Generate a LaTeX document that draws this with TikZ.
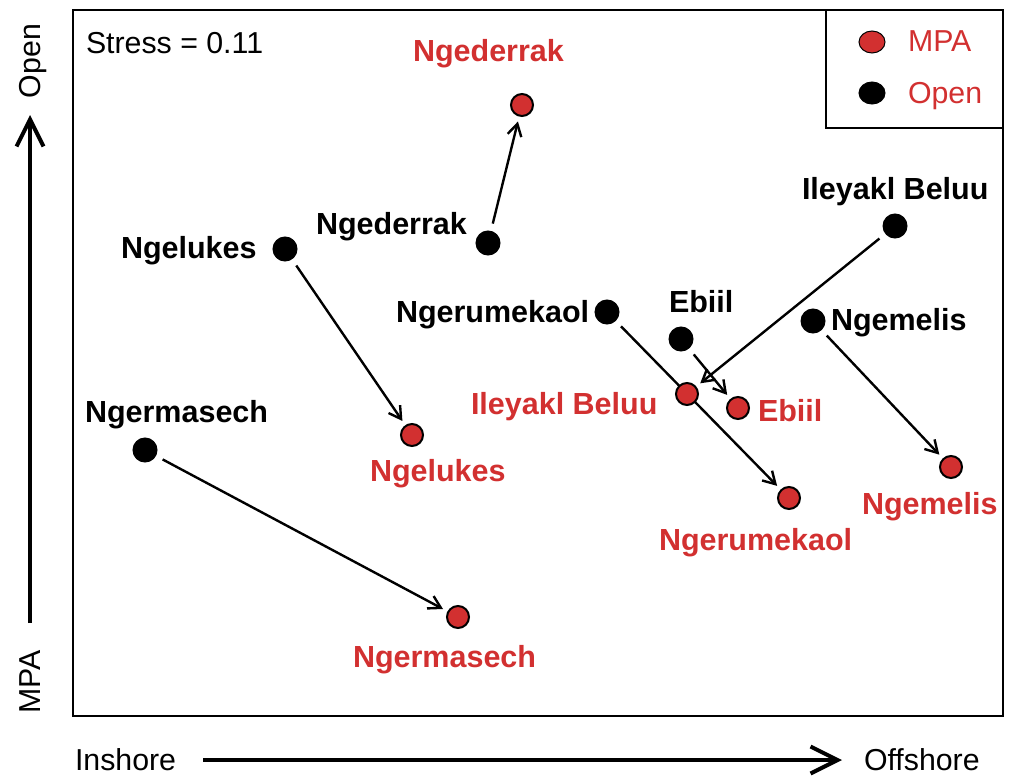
\documentclass[tikz,border=0pt]{standalone}
\usepackage{fontspec}
\setmainfont{Liberation Sans}
\usetikzlibrary{arrows.meta,backgrounds,shapes.geometric}
\definecolor{mpared}{RGB}{210,48,48}
\begin{document}
\begin{tikzpicture}[x=1pt,y=-1pt,
  every node/.style={inner sep=0pt, outer sep=0pt},
  txt/.style={font=\fontsize{30.3}{36}\selectfont},
  lblopen/.style={font=\fontsize{30.5}{36}\selectfont\bfseries, text=black, anchor=base west},
  lblmpa/.style={font=\fontsize{30.5}{36}\selectfont\bfseries, text=mpared, anchor=base west},
  opendot/.style={circle, fill=black, draw=black, line width=1pt, minimum size=24pt},
  mpadot/.style={circle, fill=mpared, draw=black, line width=2pt, minimum size=22pt},
  move/.style={line width=2.4pt, -{Straight Barb[length=12pt,width=14pt]}, shorten <=8pt, shorten >=6pt},
  axisarrow/.style={line width=4pt, -{Straight Barb[length=27pt,width=27pt]}},
  framebox/.style={line width=2.7pt}
]
\useasboundingbox (0,0) rectangle (1014,776);

% frame and legend box
\draw[framebox] (73,10) rectangle (1003,716);
\draw[framebox] (826,10) rectangle (1003,128);

% legend
\node[ellipse, fill=mpared, draw=black, line width=1pt, minimum width=26pt, minimum height=22pt] (legmpa) at (872,42) {};
\node[ellipse, fill=black, draw=black, line width=1pt, minimum width=26pt, minimum height=22pt] (legopen) at (872,93) {};
\node[txt, text=mpared, anchor=base west] (legmpatxt) at (908,52) {MPA};
\node[txt, text=mpared, anchor=base west] (legopentxt) at (908,103) {Open};

% stress
\node[txt, anchor=base west] (stress) at (86,54) {Stress = 0.11};

% axes
\coordinate (xa) at (203,760);
\coordinate (xb) at (842,760);
\coordinate (ya) at (30,623);
\coordinate (yb) at (30,115);
\draw[axisarrow] (xa) -- (xb);
\draw[axisarrow] (ya) -- (yb);
\node[txt, anchor=base west] (inshore) at (75,770) {Inshore};
\node[txt, anchor=base west] (offshore) at (864,770) {Offshore};
\node[txt, rotate=90, anchor=base] (openax) at (40,61) {Open};
\node[txt, rotate=90, anchor=base] (mpaax) at (40,682) {MPA};

% points
\node[opendot] (bNgederrak) at (488,243) {};
\node[opendot] (bNgelukes) at (285,249) {};
\node[opendot] (bNgermasech) at (145,450) {};
\node[opendot] (bNgerumekaol) at (607,312) {};
\node[opendot] (bEbiil) at (681,339) {};
\node[opendot] (bNgemelis) at (813,321) {};
\node[opendot] (bIleyakl) at (895,226) {};

\node[mpadot] (rNgederrak) at (522,105) {};
\node[mpadot] (rNgelukes) at (412,435) {};
\node[mpadot] (rNgermasech) at (458,617) {};
\node[mpadot] (rNgerumekaol) at (789,498) {};
\node[mpadot] (rIleyakl) at (687,394) {};
\node[mpadot] (rEbiil) at (738,408) {};
\node[mpadot] (rNgemelis) at (951,467) {};

% movements
\begin{pgfonlayer}{background}
\draw[move] (bNgederrak) -- (rNgederrak);
\draw[move] (bNgelukes) -- (rNgelukes);
\draw[move] (bNgermasech) -- (rNgermasech);
\draw[move] (bNgerumekaol) -- (rNgerumekaol);
\draw[move] (bEbiil) -- (rEbiil);
\draw[move] (bNgemelis) -- (rNgemelis);
\draw[move] (bIleyakl) -- (rIleyakl);
\end{pgfonlayer}

% labels
\node[lblopen] (tbNgederrak) at (316,234) {Ngederrak};
\node[lblopen] (tbNgelukes) at (121,258) {Ngelukes};
\node[lblopen] (tbNgermasech) at (85,422) {Ngermasech};
\node[lblopen] (tbNgerumekaol) at (396,322) {Ngerumekaol};
\node[lblopen] (tbEbiil) at (669,312) {Ebiil};
\node[lblopen] (tbNgemelis) at (831,330) {Ngemelis};
\node[lblopen] (tbIleyakl) at (802,199) {Ileyakl Beluu};

\node[lblmpa] (trNgederrak) at (413,62) {Ngederrak};
\node[lblmpa] (trNgelukes) at (370,481) {Ngelukes};
\node[lblmpa] (trNgermasech) at (353,667) {Ngermasech};
\node[lblmpa] (trNgerumekaol) at (659,550) {Ngerumekaol};
\node[lblmpa] (trIleyakl) at (471,414) {Ileyakl Beluu};
\node[lblmpa] (trEbiil) at (758,421) {Ebiil};
\node[lblmpa] (trNgemelis) at (862,514) {Ngemelis};
\end{tikzpicture}
\end{document}
